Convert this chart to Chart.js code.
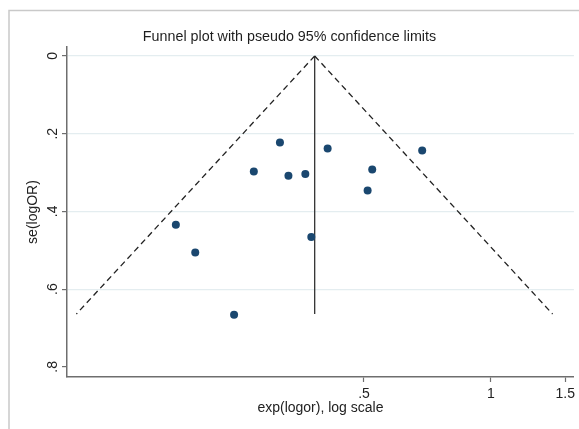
<!DOCTYPE html>
<html>
<head>
<meta charset="utf-8">
<script src="https://cdn.jsdelivr.net/npm/chart.js@4"></script>
<style>
  html, body { margin: 0; padding: 0; background: #fff; }
  #wrap { width: 579px; height: 429px; }
</style>
</head>
<body>
<div id="wrap"><canvas id="funnel" width="579" height="429"></canvas></div>
<script>
// values
const studyOR = [0.179, 0.199, 0.246, 0.274, 0.316, 0.331, 0.363, 0.375, 0.410, 0.523, 0.510, 0.687];
const studySE = [0.434, 0.506, 0.666, 0.297, 0.223, 0.308, 0.304, 0.466, 0.238, 0.292, 0.346, 0.243];
const pooledOR = 0.382;
const funnelSE = [0, 0.664];
const lowerLimitOR = [0.382, 0.104];
const upperLimitOR = [0.382, 1.40];
const yTicks = [0, 0.2, 0.4, 0.6, 0.8];
const yTickLabels = ['0', '.2', '.4', '.6', '.8'];
const xTicks = [0.5, 1, 1.5];
const xTickLabels = ['.5', '1', '1.5'];

const FONT = 'Liberation Sans, Arial, sans-serif';
const AXIS = '#6e6e6e';
const GRID = '#e4edf0';

const points = studyOR.map((v, i) => ({ x: v, y: studySE[i] }));
const lowerLine = funnelSE.map((s, i) => ({ x: lowerLimitOR[i], y: s }));
const upperLine = funnelSE.map((s, i) => ({ x: upperLimitOR[i], y: s }));
const pooledLine = funnelSE.map(s => ({ x: pooledOR, y: s }));

// outer frame + title
const framePlugin = {
    id: 'frame',
    beforeDraw(chart) {
        const ctx = chart.ctx;
        ctx.save();
        ctx.fillStyle = '#fff';
        ctx.fillRect(0, 0, chart.width, chart.height);
        ctx.strokeStyle = '#c9c9c9';
        ctx.lineWidth = 1.5;
        ctx.beginPath();
        ctx.moveTo(9, chart.height);
        ctx.lineTo(9, 10.5);
        ctx.lineTo(chart.width, 10.5);
        ctx.stroke();
        ctx.restore();
    },
    afterDraw(chart) {
        const ctx = chart.ctx;
        ctx.save();
        ctx.fillStyle = '#1e1e1e';
        ctx.font = '14.3px ' + FONT;
        ctx.textAlign = 'center';
        ctx.textBaseline = 'middle';
        ctx.fillText('Funnel plot with pseudo 95% confidence limits', 289.5, 37);
        ctx.restore();
    }
};

const ctx = document.getElementById('funnel').getContext('2d');
new Chart(ctx, {
    type: 'scatter',
    data: {
        datasets: [
            {
                label: 'Studies',
                data: points,
                backgroundColor: '#1a476f',
                borderWidth: 0,
                pointRadius: 4,
                pointHoverRadius: 4
            },
            {
                type: 'line',
                label: 'Lower limit',
                data: lowerLine,
                borderColor: '#222',
                borderWidth: 1.3,
                borderDash: [6, 4],
                pointRadius: 0,
                fill: false
            },
            {
                type: 'line',
                label: 'Upper limit',
                data: upperLine,
                borderColor: '#222',
                borderWidth: 1.3,
                borderDash: [6, 4],
                pointRadius: 0,
                fill: false
            },
            {
                type: 'line',
                label: 'Pooled',
                data: pooledLine,
                borderColor: '#333',
                borderWidth: 1.3,
                pointRadius: 0,
                fill: false
            }
        ]
    },
    options: {
        responsive: false,
        animation: false,
        events: [],
        layout: { padding: { top: 47, right: 4, bottom: 0, left: 0 } },
        plugins: {
            legend: { display: false },
            title: { display: false },
            tooltip: { enabled: false }
        },
        scales: {
            x: {
                type: 'logarithmic',
                min: 0.0988,
                max: 1.573,
                afterBuildTicks: s => { s.ticks = xTicks.map(v => ({ value: v })); },
                afterFit: s => { s.height = 52; },
                ticks: {
                    autoSkip: false,
                    maxRotation: 0,
                    padding: 4,
                    color: '#222',
                    font: { family: FONT, size: 14 },
                    callback: v => xTickLabels[xTicks.indexOf(v)]
                },
                grid: { drawOnChartArea: false, tickLength: 5, tickColor: AXIS, tickWidth: 1.2 },
                border: { color: AXIS, width: 1.5 },
                title: {
                    display: true,
                    text: 'exp(logor), log scale',
                    color: '#222',
                    font: { family: FONT, size: 14 },
                    padding: { top: 0, bottom: 12.5 }
                }
            },
            y: {
                reverse: true,
                min: -0.023,
                max: 0.826,
                afterBuildTicks: s => { s.ticks = yTicks.map(v => ({ value: v })); },
                afterFit: s => { s.width = 67; },
                ticks: {
                    minRotation: 90,
                    maxRotation: 90,
                    crossAlign: 'center',
                    padding: 3.5,
                    color: '#222',
                    font: { family: FONT, size: 14 },
                    callback: v => yTickLabels[yTicks.indexOf(v)]
                },
                grid: {
                    color: c => (c.tick && c.tick.value === 0.8 ? 'rgba(0,0,0,0)' : GRID),
                    lineWidth: 1.2,
                    tickLength: 5,
                    tickColor: AXIS,
                    tickWidth: 1.2
                },
                border: { color: AXIS, width: 1.5 },
                title: {
                    display: true,
                    text: 'se(logOR)',
                    color: '#222',
                    font: { family: FONT, size: 14 },
                    padding: { top: 24.5, bottom: 0 }
                }
            }
        }
    },
    plugins: [framePlugin]
});
</script>
</body>
</html>
